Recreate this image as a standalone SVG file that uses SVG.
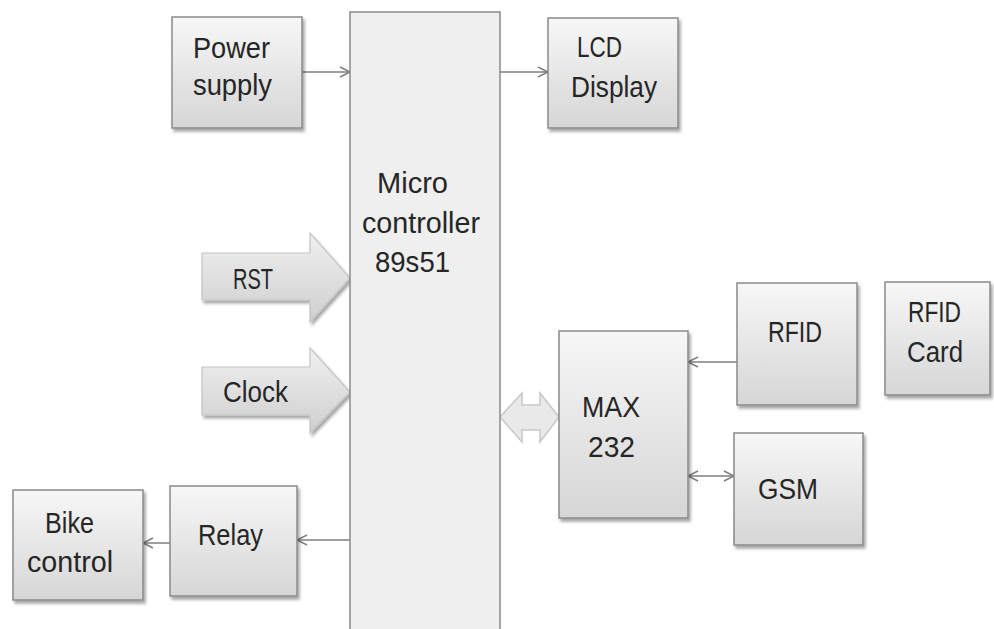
<svg xmlns="http://www.w3.org/2000/svg" width="994" height="629" viewBox="0 0 994 629">
<style>
.box{fill:url(#g);stroke:#8a8a8a;stroke-width:1.5;filter:url(#sh)}
.mcu{fill:#efefef;stroke:#8a8a8a;stroke-width:1.5}
.blk{fill:url(#gb);stroke:#c4c4c4;stroke-width:1.2;filter:url(#sh)}
.t{font-family:"Liberation Sans",Arial,sans-serif;font-size:30px;fill:#262626}
.c{stroke:#7f7f7f;stroke-width:1.5;fill:none}
</style>
<defs>
<linearGradient id="g" x1="0" y1="0" x2="0" y2="1">
<stop offset="0" stop-color="#f7f7f7"/><stop offset="1" stop-color="#d6d6d6"/>
</linearGradient>
<linearGradient id="gb" x1="0" y1="0" x2="0" y2="1">
<stop offset="0" stop-color="#f0f0f0"/><stop offset="1" stop-color="#cfcfcf"/>
</linearGradient>
<filter id="sh" x="-10%" y="-10%" width="130%" height="130%">
<feDropShadow dx="2" dy="3" stdDeviation="1.5" flood-color="#000" flood-opacity="0.35"/>
</filter>
<marker id="a" markerUnits="userSpaceOnUse" markerWidth="14" markerHeight="14" refX="11" refY="6" orient="auto-start-reverse" viewBox="0 0 14 12">
<path d="M1,1 L11,6 L1,11" fill="none" stroke="#7f7f7f" stroke-width="1.5"/>
</marker>
</defs>
<g id="connectors">
<line class="c" x1="302" y1="72" x2="350" y2="72" marker-end="url(#a)"/>
<line class="c" x1="500" y1="72" x2="548" y2="72" marker-end="url(#a)"/>
<line class="c" x1="350" y1="540" x2="297" y2="540" marker-end="url(#a)"/>
<line class="c" x1="170" y1="543" x2="143" y2="543" marker-end="url(#a)"/>
<line class="c" x1="737" y1="362" x2="688" y2="362" marker-end="url(#a)"/>
<line class="c" x1="688" y1="476" x2="734" y2="476" marker-start="url(#a)" marker-end="url(#a)"/>
<polygon class="blk" points="202,253 310,253 310,233 350,278 310,322 310,300 202,300"/>
<polygon class="blk" points="202,367 310,367 310,348 350,392 310,433 310,415 202,415"/>
<polygon points="500,417 522,393 522,405 540,405 540,393 559,417 540,442 540,430 522,430 522,442" fill="#e9e9e9" stroke="#c8c8c8" stroke-width="1.5"/>
</g>
<g id="mcu">
<rect class="mcu" x="350" y="12" width="150" height="630"/>
<text class="t" x="377" y="193" textLength="71" lengthAdjust="spacingAndGlyphs">Micro</text>
<text class="t" x="362" y="233" textLength="118" lengthAdjust="spacingAndGlyphs">controller</text>
<text class="t" x="375" y="272" textLength="75" lengthAdjust="spacingAndGlyphs">89s51</text>
</g>
<g id="power">
<rect class="box" x="172" y="17" width="130" height="111"/>
<text class="t" x="193" y="58" textLength="77" lengthAdjust="spacingAndGlyphs">Power</text>
<text class="t" x="193" y="95" textLength="79" lengthAdjust="spacingAndGlyphs">supply</text>
</g>
<g id="lcd">
<rect class="box" x="548" y="18" width="130" height="110"/>
<text class="t" x="577" y="57" textLength="45" lengthAdjust="spacingAndGlyphs">LCD</text>
<text class="t" x="571" y="97" textLength="86" lengthAdjust="spacingAndGlyphs">Display</text>
</g>
<g id="rst">
<text class="t" x="233" y="289" textLength="40" lengthAdjust="spacingAndGlyphs">RST</text>
</g>
<g id="clock">
<text class="t" x="223" y="402" textLength="65" lengthAdjust="spacingAndGlyphs">Clock</text>
</g>
<g id="max232">
<rect class="box" x="559" y="331" width="129" height="187"/>
<text class="t" x="582" y="417" textLength="58" lengthAdjust="spacingAndGlyphs">MAX</text>
<text class="t" x="588" y="457" textLength="47" lengthAdjust="spacingAndGlyphs">232</text>
</g>
<g id="rfid">
<rect class="box" x="737" y="283" width="120" height="122"/>
<text class="t" x="768" y="342" textLength="54" lengthAdjust="spacingAndGlyphs">RFID</text>
</g>
<g id="rfidcard">
<rect class="box" x="885" y="282" width="105" height="113"/>
<text class="t" x="908" y="322" textLength="53" lengthAdjust="spacingAndGlyphs">RFID</text>
<text class="t" x="907" y="362" textLength="56" lengthAdjust="spacingAndGlyphs">Card</text>
</g>
<g id="gsm">
<rect class="box" x="734" y="433" width="129" height="112"/>
<text class="t" x="758" y="499" textLength="60" lengthAdjust="spacingAndGlyphs">GSM</text>
</g>
<g id="relay">
<rect class="box" x="170" y="486" width="127" height="110"/>
<text class="t" x="198" y="545" textLength="65" lengthAdjust="spacingAndGlyphs">Relay</text>
</g>
<g id="bike">
<rect class="box" x="13" y="490" width="130" height="110"/>
<text class="t" x="45" y="533" textLength="49" lengthAdjust="spacingAndGlyphs">Bike</text>
<text class="t" x="27" y="572" textLength="86" lengthAdjust="spacingAndGlyphs">control</text>
</g>
</svg>
